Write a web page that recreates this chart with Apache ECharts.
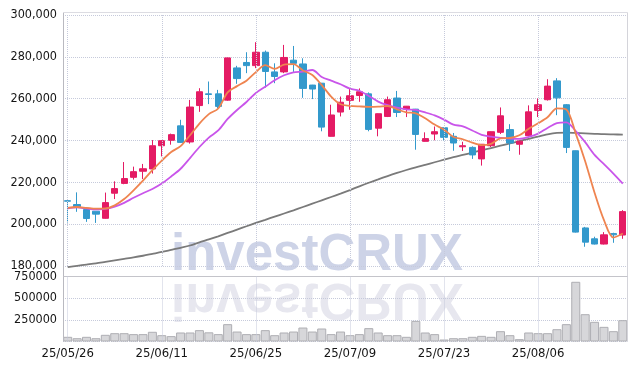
<!DOCTYPE html>
<html>
<head>
<meta charset="utf-8">
<script src="https://cdn.jsdelivr.net/npm/echarts@6/dist/echarts.min.js"></script>
<style>
  html, body { margin: 0; padding: 0; background: #fff; }
  #chart { width: 637px; height: 369px; }
</style>
</head>
<body>
<div id="chart"></div>
<script>
const dates = [
  '25/05/26','25/05/27','25/05/28','25/05/29','25/05/30','25/06/02','25/06/04','25/06/05','25/06/09','25/06/10',
  '25/06/11','25/06/12','25/06/13','25/06/16','25/06/17','25/06/18','25/06/19','25/06/20','25/06/23','25/06/24',
  '25/06/25','25/06/26','25/06/27','25/06/30','25/07/01','25/07/02','25/07/03','25/07/04','25/07/07','25/07/08',
  '25/07/09','25/07/10','25/07/11','25/07/14','25/07/15','25/07/16','25/07/17','25/07/18','25/07/21','25/07/22',
  '25/07/23','25/07/24','25/07/25','25/07/28','25/07/29','25/07/30','25/07/31','25/08/01','25/08/04','25/08/05',
  '25/08/06','25/08/07','25/08/08','25/08/11','25/08/12','25/08/13','25/08/14','25/08/18','25/08/19','25/08/20'
];

const opens = [
  211200, 209400, 207000, 206200, 202800, 214800, 219500, 222400, 225300, 226400,
  237500, 240100, 247000, 239300, 256700, 262300, 262300, 259300, 274700, 277300,
  275800, 282200, 272800, 272800, 278400, 276600, 266500, 267400, 242000, 253600,
  259200, 261500, 262300, 245900, 251500, 260300, 255000, 255000, 239600, 243100,
  246100, 242000, 237000, 236700, 231200, 237500, 243900, 245200, 238200, 242300,
  254400, 259500, 268500, 257100, 235100, 198200, 193000, 190500, 195500, 194800
];
const closes = [
  211000, 208300, 202700, 204800, 210300, 217000, 221800, 225100, 226500, 237500,
  239900, 242800, 239100, 256000, 263300, 262000, 256300, 279500, 269600, 275800,
  282200, 273000, 270600, 279700, 276900, 264900, 264600, 246400, 252200, 258300,
  261400, 263300, 245300, 252800, 259500, 253400, 256400, 242900, 240900, 244200,
  241500, 238800, 237500, 233100, 238200, 244200, 251800, 238800, 239700, 253700,
  257100, 266000, 260400, 236700, 196200, 191400, 190500, 194900, 194900, 206000
];
const lows = [
  200800, 205900, 201100, 200600, 202600, 212000, 219100, 221300, 221600, 224200,
  232400, 238000, 238800, 238500, 253700, 257400, 255300, 259000, 267100, 272200,
  274600, 265300, 267400, 272200, 272800, 260400, 259800, 244400, 241900, 251500,
  254700, 258500, 244400, 242000, 251200, 251200, 251200, 235600, 239500, 240100,
  240100, 235100, 235000, 231200, 228000, 236900, 243100, 235000, 233200, 242200,
  251200, 259100, 252100, 234000, 196000, 189200, 190300, 190300, 191100, 193000
];
const highs = [
  211400, 215200, 207000, 206200, 215100, 220500, 229700, 227500, 228800, 240200,
  240200, 243300, 249900, 259400, 265000, 268200, 264200, 279600, 275700, 282200,
  287000, 283000, 276900, 285700, 285200, 279300, 266600, 267500, 257100, 261000,
  264900, 264900, 263000, 252900, 261000, 263700, 256500, 255100, 243900, 246700,
  246200, 243600, 239400, 237200, 238300, 244300, 255800, 247800, 239800, 256800,
  260100, 269300, 269800, 257400, 235200, 198700, 194000, 196200, 195900, 206700
];
const volumes = [
  54000, 38000, 54000, 38000, 77000, 96000, 96000, 85000, 85000, 112000,
  73000, 62000, 104000, 104000, 131000, 106000, 85000, 200000, 115000, 85000,
  85000, 131000, 73000, 104000, 115000, 161000, 115000, 150000, 85000, 115000,
  73000, 85000, 154000, 104000, 73000, 73000, 54000, 238000, 104000, 85000,
  23000, 38000, 38000, 54000, 65000, 54000, 119000, 73000, 27000, 104000,
  96000, 96000, 142000, 200000, 689000, 315000, 227000, 169000, 119000, 246000
];
const ma5 = [
  207800, 208200, 207800, 207400, 207500, 209000, 212000, 216200, 220800, 225800,
  230400, 234500, 237300, 242500, 248100, 252600, 255300, 263000, 266000, 268600,
  272700, 276000, 274200, 276300, 276500, 273500, 271300, 266500, 261000, 257300,
  256600, 256300, 256100, 256200, 256500, 254900, 253500, 253000, 250600, 247600,
  245200, 241700, 240600, 239000, 237800, 238400, 241000, 241200, 242500, 245600,
  248200, 251100, 255400, 254800, 243300, 230100, 215000, 201900, 193600, 195500
];
const ma10 = [
  207600, 208000, 207500, 207100, 207300, 208400, 210200, 212600, 214800, 216800,
  219400, 222800, 226500, 231600, 236900, 241400, 244800, 250300, 254600, 258400,
  262700, 265700, 268800, 271200, 272600, 272900, 273700, 270400, 268600, 266900,
  264800, 263800, 261300, 258600, 256900, 255700, 254900, 254600, 253400, 252000,
  250000, 247600, 246800, 244800, 242700, 241800, 241300, 240900, 240800, 241700,
  243300, 246000, 248300, 248700, 244500, 239200, 233100, 228700, 224200, 219400
];
const maLong = [
  179500, 180100, 180700, 181300, 182000, 182700, 183400, 184100, 184900, 185800,
  186700, 187700, 188700, 189800, 191300, 192700, 194200, 195800, 197400, 199000,
  200600, 202100, 203600, 205100, 206600, 208200, 209800, 211400, 213000, 214600,
  216300, 218100, 219800, 221400, 223000, 224500, 225900, 227200, 228400, 229600,
  230800, 232000, 233100, 234200, 235300, 236400, 237500, 238600, 239700, 240800,
  241900, 242900, 243600, 243800, 243600, 243400, 243200, 243000, 242900, 242800
];
const priceTicks = [180000, 300000, 20000];
const volumeTicks = [0, 750000, 250000];

const UP = '#e41b64';
const DOWN = '#3399cc';
const GRIDLINE = '#c6cadb';
const FONT = "'Liberation Sans Narrow', 'DejaVu Sans Condensed', 'Liberation Sans', sans-serif";
const WM_FONT = "bold 51px 'Liberation Sans', Arial, sans-serif";

const candles = dates.map((d, i) => [opens[i], closes[i], lows[i], highs[i]]);
const vLines = dates.filter((d, i) => i % 10 === 0).map(d => ({ xAxis: d }));

const chart = echarts.init(document.getElementById('chart'));

const vMark = {
  silent: true,
  symbol: ['none', 'none'],
  label: { show: false },
  lineStyle: { type: 'dotted', color: GRIDLINE, width: 1 },
  data: vLines,
  animation: false,
};

const option = {
  animation: false,
  backgroundColor: '#fff',
  graphic: [
    // watermark + mirrored reflection
    {
      type: 'text', x: 317, y: 281, z: -10, silent: true,
      style: { text: 'investCRUX', fill: '#cdd3e7', font: WM_FONT, align: 'center', verticalAlign: 'bottom' },
    },
    {
      type: 'text', x: 317, y: 273, scaleY: -1, z: -10, silent: true,
      style: { text: 'investCRUX', fill: '#e7e7ef', font: WM_FONT, align: 'center', verticalAlign: 'bottom' },
    },
    // frame
    { type: 'line', z: 5, silent: true, shape: { x1: 63.5, y1: 12.5, x2: 63.5, y2: 341.5 }, style: { stroke: '#b9b9c0', lineWidth: 1 } },
    { type: 'line', z: 5, silent: true, shape: { x1: 63.5, y1: 12.5, x2: 627.5, y2: 12.5 }, style: { stroke: '#dcdce2', lineWidth: 1 } },
    { type: 'line', z: 5, silent: true, shape: { x1: 627.5, y1: 12.5, x2: 627.5, y2: 341.5 }, style: { stroke: '#d4d4da', lineWidth: 1 } },
    { type: 'line', z: 5, silent: true, shape: { x1: 63.5, y1: 276.5, x2: 627.5, y2: 276.5 }, style: { stroke: '#c4c4ca', lineWidth: 1 } },
  ],
  grid: [
    { left: 63, right: 9.5, top: 15, height: 251 },
    { left: 63, right: 9.5, top: 276.5, height: 65 },
  ],
  xAxis: [
    {
      type: 'category', gridIndex: 0, data: dates, boundaryGap: true,
      axisLine: { show: false }, axisTick: { show: false }, axisLabel: { show: false }, splitLine: { show: false },
    },
    {
      type: 'category', gridIndex: 1, data: dates, boundaryGap: true,
      axisLine: { show: false }, axisTick: { show: false }, splitLine: { show: false },
      axisLabel: { interval: 9, margin: 6, color: '#151515', fontSize: 13, fontFamily: FONT },
    },
  ],
  yAxis: [
    {
      type: 'value', gridIndex: 0, min: priceTicks[0], max: priceTicks[1], interval: priceTicks[2],
      axisLine: { show: false }, axisTick: { show: false },
      axisLabel: {
        margin: 6, color: '#151515', fontSize: 12.5, fontFamily: FONT,
        formatter: v => v.toString().replace(/\B(?=(\d{3})+(?!\d))/g, ','),
      },
      splitLine: { lineStyle: { type: 'dotted', color: GRIDLINE } },
    },
    {
      type: 'value', gridIndex: 1, min: volumeTicks[0], max: volumeTicks[1], interval: volumeTicks[2],
      axisLine: { show: false }, axisTick: { show: false },
      axisLabel: { margin: 6, color: '#151515', fontSize: 12.5, fontFamily: FONT, showMinLabel: false, formatter: v => String(v) },
      splitLine: { lineStyle: { type: 'dotted', color: GRIDLINE } },
    },
  ],
  series: [
    {
      type: 'line', xAxisIndex: 0, yAxisIndex: 0, data: maLong, symbol: 'none', smooth: 0.3, clip: false, z: 1,
      lineStyle: { color: '#7a7a7a', width: 1.8 },
      markLine: vMark,
    },
    {
      type: 'candlestick', xAxisIndex: 0, yAxisIndex: 0, data: candles, barWidth: '72%', z: 3,
      itemStyle: { color: UP, color0: DOWN, borderColor: UP, borderColor0: DOWN, borderWidth: 1 },
    },
    {
      type: 'line', xAxisIndex: 0, yAxisIndex: 0, data: ma10, symbol: 'none', smooth: 0.3, z: 4,
      lineStyle: { color: '#c955ea', width: 1.8 },
    },
    {
      type: 'line', xAxisIndex: 0, yAxisIndex: 0, data: ma5, symbol: 'none', smooth: 0.3, z: 4,
      lineStyle: { color: '#ef8450', width: 1.8 },
    },
    {
      type: 'bar', xAxisIndex: 1, yAxisIndex: 1, data: volumes, barCategoryGap: '4%', z: 2,
      itemStyle: { color: '#d7d7da', borderColor: '#aeaeb3', borderWidth: 1 },
      markLine: vMark,
    },
  ],
};

chart.setOption(option);
</script>
</body>
</html>
